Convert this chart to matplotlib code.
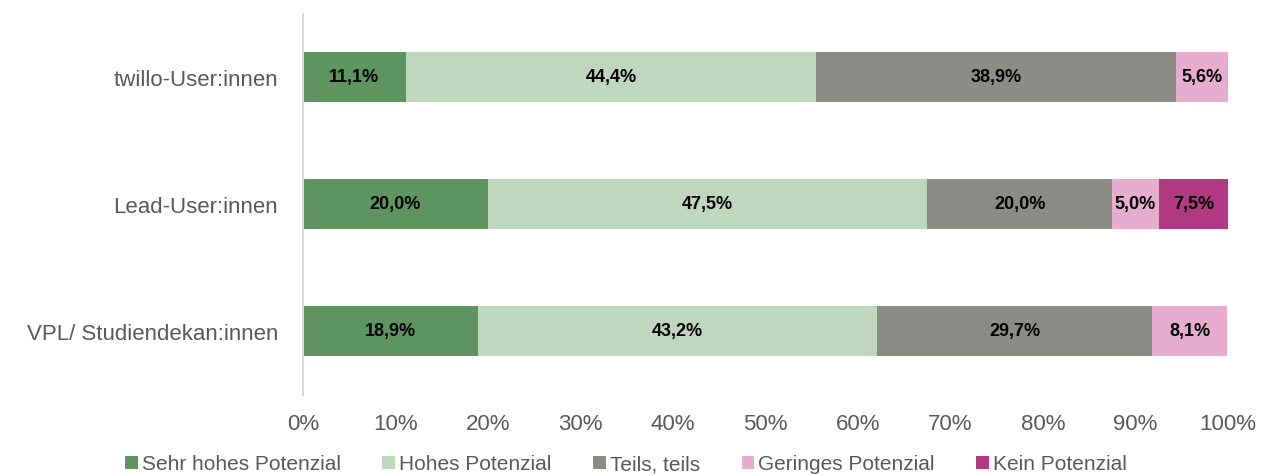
import numpy as np
import matplotlib.pyplot as plt
from matplotlib.ticker import PercentFormatter

# Kategorien (von unten nach oben)
groups = ['VPL/ Studiendekan:innen', 'Lead-User:innen', 'twillo-User:innen']
series = ['Sehr hohes Potenzial', 'Hohes Potenzial', 'Teils, teils',
          'Geringes Potenzial', 'Kein Potenzial']

sehr_hoch = [18.9, 20.0, 11.1]
hoch = [43.2, 47.5, 44.4]
teils = [29.7, 20.0, 38.9]
gering = [8.1, 5.0, 5.6]
kein = [0.0, 7.5, 0.0]

colors = ['#5E9460', '#BFD7BC', '#8C8C87', '#E7ADCF', '#B23A83']
text_grey = '#595959'

plt.rcParams['font.family'] = ['Liberation Sans', 'DejaVu Sans']

fig = plt.figure(figsize=(12.67, 4.77), dpi=100)
ax = fig.add_axes([303 / 1267, 1 - 395.5 / 477, (1228 - 303) / 1267, (395.5 - 14.5) / 477])

y = np.arange(len(groups))
left = np.zeros(len(groups))
for vals, name, col in zip([sehr_hoch, hoch, teils, gering, kein], series, colors):
    vals = np.array(vals)
    ax.barh(y, vals, left=left, height=0.4, color=col, label=name)
    for yi, l, v in zip(y, left, vals):
        if v > 0:
            ax.text(l + v / 2, yi, f'{v:.1f}%'.replace('.', ','), ha='center', va='center',
                    fontsize=13, fontweight='bold', color='black')
    left += vals

ax.set_xlim(0, 100)
ax.set_ylim(-0.5, 2.5)
ax.set_xticks(np.arange(0, 101, 10))
ax.xaxis.set_major_formatter(PercentFormatter(decimals=0))
ax.set_yticks(y)
ax.set_yticklabels(groups)
ax.tick_params(axis='both', length=0, labelsize=16, labelcolor=text_grey)
ax.tick_params(axis='x', pad=13)
ax.tick_params(axis='y', pad=18)
for s in ['top', 'right', 'bottom']:
    ax.spines[s].set_visible(False)
ax.spines['left'].set_color('#D9D9D9')
ax.spines['left'].set_linewidth(1.5)

fig.legend(*ax.get_legend_handles_labels(), loc='center', bbox_to_anchor=(626 / 1267, 1 - 465 / 477),
           ncol=5, frameon=False, fontsize=15, labelcolor=text_grey, handlelength=0.6,
           handleheight=0.6, handletextpad=0.2, columnspacing=2.0, borderpad=0)

fig.savefig('out.png', dpi=100)
